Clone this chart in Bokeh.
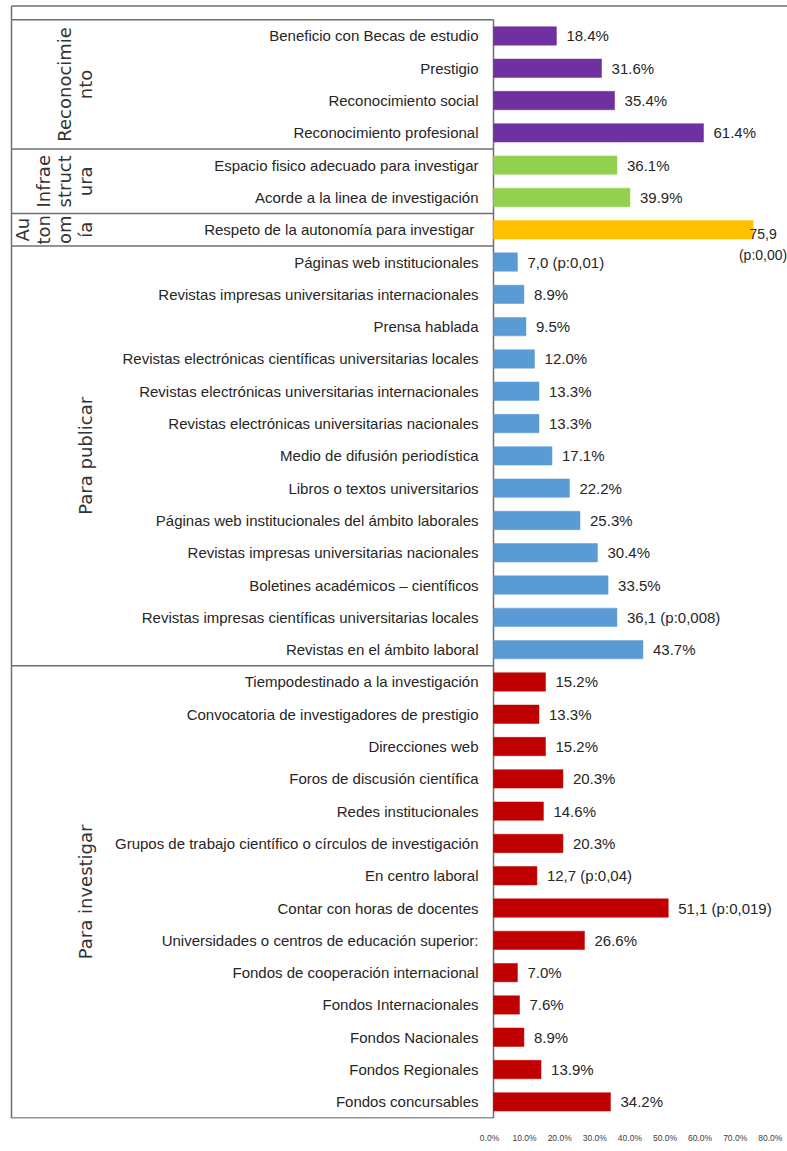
import math
from bokeh.plotting import figure
from bokeh.models import ColumnDataSource, Range1d, LinearAxis, FixedTicker, PrintfTickFormatter
from bokeh.core.properties import value
from bokeh.embed import file_html
from bokeh.resources import INLINE

# ---------------- data ----------------
groups = ["Reconocimiento", "Infraestructura", "Autonomía", "Para publicar", "Para investigar"]
group_label_lines = [["Reconocimie", "nto"], ["Infrae", "struct", "ura"],
                     ["Au", "ton", "om", "ía"], ["Para publicar"], ["Para investigar"]]
group_colors = ["#7030A0", "#92D050", "#FFC000", "#5B9BD5", "#C00000"]

reconocimiento_cats = ["Beneficio con Becas de estudio", "Prestigio", "Reconocimiento social",
                       "Reconocimiento profesional"]
reconocimiento_vals = [18.4, 31.6, 35.4, 61.4]
reconocimiento_lbls = ["18.4%", "31.6%", "35.4%", "61.4%"]

infraestructura_cats = ["Espacio fisico adecuado para investigar", "Acorde a la linea de investigación"]
infraestructura_vals = [36.1, 39.9]
infraestructura_lbls = ["36.1%", "39.9%"]

autonomia_cats = ["Respeto de la autonomía para  investigar"]
autonomia_vals = [75.9]
autonomia_lbls = ["75,9\n(p:0,00)"]

publicar_cats = ["Páginas web institucionales",
                 "Revistas impresas universitarias internacionales",
                 "Prensa hablada",
                 "Revistas electrónicas científicas universitarias locales",
                 "Revistas electrónicas universitarias internacionales",
                 "Revistas electrónicas universitarias nacionales",
                 "Medio de difusión periodística",
                 "Libros o textos universitarios",
                 "Páginas web institucionales del ámbito laborales",
                 "Revistas impresas universitarias nacionales",
                 "Boletines académicos – científicos",
                 "Revistas impresas científicas universitarias locales",
                 "Revistas en el ámbito laboral"]
publicar_vals = [7.0, 8.9, 9.5, 12.0, 13.3, 13.3, 17.1, 22.2, 25.3, 30.4, 33.5, 36.1, 43.7]
publicar_lbls = ["7,0 (p:0,01)", "8.9%", "9.5%", "12.0%", "13.3%", "13.3%", "17.1%", "22.2%",
                 "25.3%", "30.4%", "33.5%", "36,1 (p:0,008)", "43.7%"]

investigar_cats = ["Tiempodestinado a la investigación",
                   "Convocatoria de investigadores de prestigio",
                   "Direcciones web",
                   "Foros de discusión científica",
                   "Redes institucionales",
                   "Grupos de trabajo científico o círculos de investigación",
                   "En centro laboral",
                   "Contar con horas de docentes",
                   "Universidades o centros de educación superior:",
                   "Fondos de cooperación internacional",
                   "Fondos Internacionales",
                   "Fondos Nacionales",
                   "Fondos Regionales",
                   "Fondos concursables"]
investigar_vals = [15.2, 13.3, 15.2, 20.3, 14.6, 20.3, 12.7, 51.1, 26.6, 7.0, 7.6, 8.9, 13.9, 34.2]
investigar_lbls = ["15.2%", "13.3%", "15.2%", "20.3%", "14.6%", "20.3%", "12,7 (p:0,04)",
                   "51,1 (p:0,019)", "26.6%", "7.0%", "7.6%", "8.9%", "13.9%", "34.2%"]

axis_ticks = [0, 10, 20, 30, 40, 50, 60, 70, 80]

group_cats = [reconocimiento_cats, infraestructura_cats, autonomia_cats, publicar_cats, investigar_cats]
group_vals = [reconocimiento_vals, infraestructura_vals, autonomia_vals, publicar_vals, investigar_vals]
group_lbls = [reconocimiento_lbls, infraestructura_lbls, autonomia_lbls, publicar_lbls, investigar_lbls]

# ---------------- layout constants ----------------
W, H = 787, 1151
BOTTOM = 33
ZERO_PX = 493.0          # px of value 0
PX_PER_UNIT = 3.42
ROW_PX = 32.3
FIRST_EDGE_PX = 19.3     # px of the top row edge
AX_ZERO_PX = 489.0
AX_PX_PER_UNIT = 3.51
LEFT_PX = 11.0
TOP_PX = 5.5
LINE_COLOR = "#6f6f6f"
TXT = "#262626"
SANS = "Liberation Sans"

frame_h = H - BOTTOM
def px2x(px):
    return (px - ZERO_PX) / PX_PER_UNIT
def py2y(py):
    return -0.5 + (py - FIRST_EDGE_PX) / ROW_PX

x_start, x_end = px2x(0), px2x(W)
y_top, y_bottom = py2y(0), py2y(frame_h)

# ---------------- build sources ----------------
ys, cats, vals, lbls, cols = [], [], [], [], []
row = 0
bounds = [-0.5]
centers = []
for g, cl, vl, ll, col in zip(groups, group_cats, group_vals, group_lbls, group_colors):
    start = row
    for c, v, l in zip(cl, vl, ll):
        ys.append(row); cats.append(c); vals.append(v); lbls.append(l); cols.append(col)
        row += 1
    bounds.append(row - 0.5)
    centers.append((start + row - 1) / 2.0)

src = ColumnDataSource(dict(y=ys, cat=cats, val=vals, lbl=lbls, color=cols))
single = [i for i, l in enumerate(lbls) if "\n" not in l]
multi = [i for i, l in enumerate(lbls) if "\n" in l]
src1 = ColumnDataSource(dict(y=[ys[i] for i in single], val=[vals[i] for i in single],
                             lbl=[lbls[i] for i in single]))
src2 = ColumnDataSource(dict(y=[ys[i] for i in multi], val=[vals[i] for i in multi],
                             lbl=[lbls[i] for i in multi]))

gx, gy, gt, goff = [], [], [], []
for lines, c in zip(group_label_lines, centers):
    n = len(lines)
    for j, t in enumerate(lines):
        gx.append(px2x(85)); gy.append(c); gt.append(t); goff.append(-21 * (n - 1 - j))
gsrc = ColumnDataSource(dict(x=gx, y=gy, t=gt, off=goff))

# ---------------- figure ----------------
p = figure(width=W, height=H, output_backend="svg", toolbar_location=None,
           x_range=Range1d(x_start, x_end), y_range=Range1d(y_bottom, y_top),
           x_axis_location=None, y_axis_location=None, title=None,
           min_border_left=0, min_border_right=0, min_border_top=0, min_border_bottom=BOTTOM,
           background_fill_color="white", border_fill_color="white", outline_line_color=None)
p.xgrid.visible = False
p.ygrid.visible = False

# table lines
lx = px2x(LEFT_PX)
ty = py2y(TOP_PX)
p.segment(x0=[lx] * len(bounds), x1=[0] * len(bounds), y0=bounds, y1=bounds,
          line_color=LINE_COLOR, line_width=1.5)
p.segment(x0=[0], x1=[0], y0=[bounds[0]], y1=[bounds[-1]], line_color=LINE_COLOR, line_width=1.5)
p.segment(x0=[lx], x1=[lx], y0=[ty], y1=[y_bottom], line_color=LINE_COLOR, line_width=1.5)
p.segment(x0=[lx], x1=[x_end], y0=[ty], y1=[ty], line_color=LINE_COLOR, line_width=1.5)

# bars
p.hbar(y="y", left=0, right="val", height=0.57, source=src,
       fill_color="color", line_color="color", line_width=0.5)

# category labels
p.text(x=0, y="y", text="cat", source=src, x_offset=-15, text_align="right",
       text_baseline="middle", text_font=value(SANS), text_font_size="15px", text_color=TXT)

# value labels
p.text(x="val", y="y", text="lbl", source=src1, x_offset=10, text_align="left",
       text_baseline="middle", text_font=value(SANS), text_font_size="15px", text_color=TXT)
p.text(x="val", y="y", text="lbl", source=src2, x_offset=10, y_offset=15, text_align="center",
       text_baseline="middle", text_font=value(SANS), text_font_size="14px", text_color=TXT,
       text_line_height=1.3)

# group labels (rotated)
p.text(x="x", y="y", text="t", source=gsrc, x_offset="off", angle=math.pi / 2,
       text_align="center", text_baseline="middle", text_font=value("DejaVu Sans"),
       text_font_size="18px", text_color="#333333")

# bottom axis
p.extra_x_ranges = {"ax": Range1d((0 - AX_ZERO_PX) / AX_PX_PER_UNIT, (W - AX_ZERO_PX) / AX_PX_PER_UNIT)}
ax = LinearAxis(x_range_name="ax", ticker=FixedTicker(ticks=axis_ticks),
                formatter=PrintfTickFormatter(format="%.1f%%"),
                axis_line_color=None, major_tick_line_color=None, minor_tick_line_color=None,
                major_label_text_font=SANS, major_label_text_font_size="8.5px",
                major_label_text_color="#404040", major_label_standoff=8)
p.add_layout(ax, "below")

open("out.html", "w").write(file_html(p, INLINE))
